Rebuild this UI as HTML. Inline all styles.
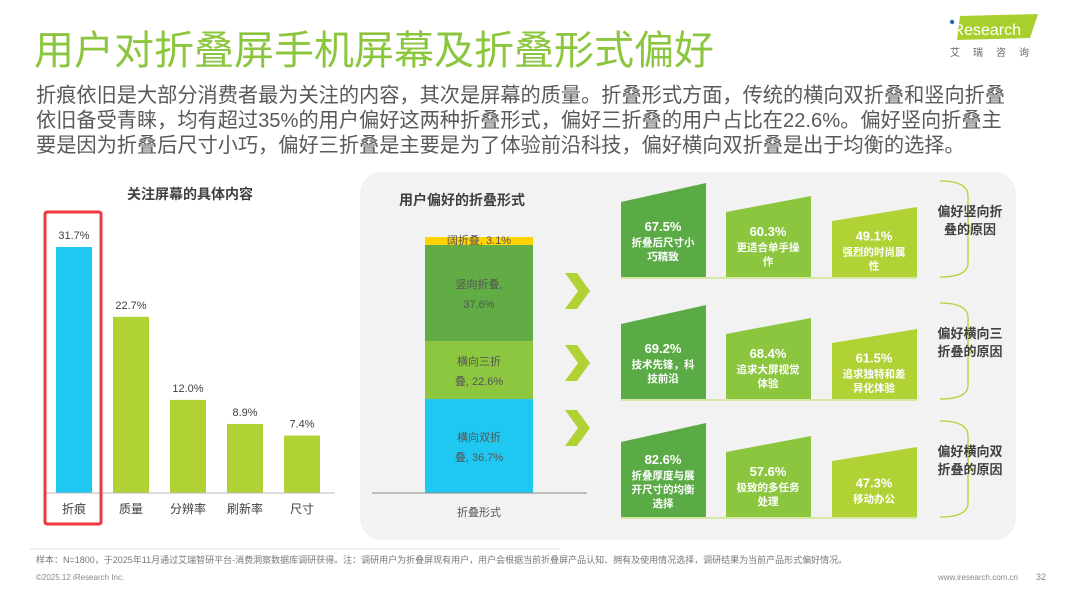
<!DOCTYPE html>
<html><head><meta charset="utf-8">
<style>
body{margin:0;width:1088px;height:595px;background:#fff;overflow:hidden;font-family:"Liberation Sans","Noto Sans CJK SC",sans-serif;position:relative}
.abs{position:absolute}
#title{left:34px;top:26px;font-size:40px;color:#8cc63f;white-space:nowrap;line-height:50px}
#para{left:36px;top:84px;font-size:20.2px;color:#595959;line-height:25px;width:1000px;white-space:nowrap}
</style></head><body>
<div class="abs" id="title">用户对折叠屏手机屏幕及折叠形式偏好</div>
<div class="abs" id="para">折痕依旧是大部分消费者最为关注的内容，其次是屏幕的质量。折叠形式方面，传统的横向双折叠和竖向折叠<br>依旧备受青睐，均有超过35%的用户偏好这两种折叠形式，偏好三折叠的用户占比在22.6%。偏好竖向折叠主<br>要是因为折叠后尺寸小巧，偏好三折叠是主要是为了体验前沿科技，偏好横向双折叠是出于均衡的选择。</div>
<svg class="abs" style="left:0;top:0" width="1088" height="595">
 <g>
  <polygon points="960,16 1038,14 1030,38 957,40" fill="#a8cf2e"/>
  <circle cx="952" cy="22" r="2.2" fill="#2a64b0"/>
  <text x="949" y="35" font-size="16" fill="#fff" font-family="Liberation Sans">iResearch</text>
  <text x="950" y="56" font-size="10" fill="#666" letter-spacing="13">艾瑞咨询</text>
 </g>
 <rect x="360" y="172" width="656" height="368" rx="22" fill="#f2f2f2"/>
 <g id="left"></g>
 <g id="mid"></g>
 <g id="cards"></g>
 <line x1="30" y1="549" x2="560" y2="549" stroke="#ddd"/>
 <text x="36" y="563" font-size="9" fill="#777">样本：N=1800，于2025年11月通过艾瑞智研平台-消费洞察数据库调研获得。注：调研用户为折叠屏现有用户，用户会根据当前折叠屏产品认知、拥有及使用情况选择，调研结果为当前产品形式偏好情况。</text>
 <text x="36" y="580" font-size="8" fill="#888">©2025.12 iResearch Inc.</text>
 <text x="1018" y="580" font-size="8" fill="#888" text-anchor="end">www.iresearch.com.cn</text>
 <text x="1046" y="580" font-size="9" fill="#888" text-anchor="end">32</text>
</svg>
<script>
const NS="http://www.w3.org/2000/svg";
function mk(p,t,a,txt){const e=document.createElementNS(NS,t);for(const k in a)e.setAttribute(k,a[k]);if(txt!==undefined)e.textContent=txt;p.appendChild(e);return e;}
// left chart data
const attCats=["折痕","质量","分辨率","刷新率","尺寸"];
const attVals=[31.7,22.7,12.0,8.9,7.4];
// mid chart data
const formCats=["横向双折叠","横向三折叠","竖向折叠","阔折叠"];
const formVals=[36.7,22.6,37.6,3.1];
// reason card data
const reasonGroups=["偏好竖向折叠的原因","偏好横向三折叠的原因","偏好横向双折叠的原因"];
const reasonVals=[[67.5,60.3,49.1],[69.2,68.4,61.5],[82.6,57.6,47.3]];
const reasonLabels=[["折叠后尺寸小|巧精致","更适合单手操|作","强烈的时尚属|性"],["技术先锋，科|技前沿","追求大屏视觉|体验","追求独特和差|异化体验"],["折叠厚度与展|开尺寸的均衡|选择","极致的多任务|处理","移动办公"]];

const L=document.getElementById("left");
mk(L,"text",{x:190,y:199,"font-size":14,"font-weight":"bold",fill:"#404040","text-anchor":"middle"},"关注屏幕的具体内容");
const base=493,sc=246/31.7;
const yL=v=>base-v*sc;
attVals.forEach((v,i)=>{
 const cx=74+i*57;
 const r=mk(L,"rect",{x:cx-18,y:yL(v),width:36,height:base-yL(v),fill:i==0?"#1ec8f0":"#b0d235"});
 
 
 mk(L,"text",{x:cx,y:yL(v)-8,"font-size":11,fill:"#404040","text-anchor":"middle"},v.toFixed(1)+"%");
 mk(L,"text",{x:cx,y:513,"font-size":12,fill:"#404040","text-anchor":"middle"},attCats[i]);
});
mk(L,"line",{x1:45,y1:base,x2:335,y2:base,stroke:"#bbb"});
const hb=mk(L,"rect",{x:45,y:212,width:56,height:312,fill:"none",stroke:"#f0393c","stroke-width":3,rx:2});



const M=document.getElementById("mid");
mk(M,"text",{x:462,y:205,"font-size":14,"font-weight":"bold",fill:"#404040","text-anchor":"middle"},"用户偏好的折叠形式");
const tot=formVals.reduce((a,b)=>a+b,0),ms=256/tot;
const colors=["#1ec8f0","#8dc63f","#62ac45","#ffd200"];
let acc=0;
formVals.forEach((v,i)=>{
 const y0=base-acc*ms,h=v*ms;acc+=v;
 const r=mk(M,"rect",{x:425,y:y0-h,width:108,height:h,fill:colors[i]});
 
 
 const cy=y0-h/2;
 if(i==3){mk(M,"text",{x:479,y:y0-1,"font-size":11,fill:"#555","text-anchor":"middle"},formCats[i]+", "+v+"%");}
 else{
  let a,b;
  if(i==2){a=formCats[i]+",";b=v+"%";}else{a=formCats[i].slice(0,4);b=formCats[i].slice(4)+", "+v+"%";}
  mk(M,"text",{x:479,y:cy-5,"font-size":11,fill:"#555","text-anchor":"middle"},a);
  mk(M,"text",{x:479,y:cy+15,"font-size":11,fill:"#555","text-anchor":"middle"},b);
 }
});
mk(M,"line",{x1:372,y1:base,x2:587,y2:base,stroke:"#888"});
mk(M,"text",{x:479,y:516,"font-size":11,fill:"#555","text-anchor":"middle"},"折叠形式");
[273,345,410].forEach(y=>{
 const c=mk(M,"polygon",{points:`565,${y} 577,${y} 590,${y+18} 577,${y+36} 565,${y+36} 578,${y+18}`,fill:"#b0d235"});
 
 
});

const C=document.getElementById("cards");
const bottoms=[278,400,518],cardX=[621,726,832],cardCol=["#5aab46","#8cc63f","#b0d235"];
const tops=[[202,183],[212,196],[221,207]];
reasonVals.forEach((row,g)=>{
 const b=bottoms[g];
 row.forEach((v,j)=>{
  const x=cardX[j],tl=b-(278-tops[j][0]),tr=b-(278-tops[j][1]);
  const p=mk(C,"polygon",{points:`${x},${tl} ${x+85},${tr} ${x+85},${b} ${x},${b}`,fill:cardCol[j]});
  
  
  const lines=reasonLabels[g][j].split("|");
  const cx=x+42,mid=(tl+b)/2+5;
  const st=mid-(lines.length*14)/2;
  mk(C,"text",{x:cx,y:st,"font-size":13,"font-weight":"bold",fill:"#fff","text-anchor":"middle"},v.toFixed(1)+"%");
  lines.forEach((t,k)=>mk(C,"text",{x:cx,y:st+15+k*14,"font-size":10.5,"font-weight":"bold",fill:"#fff","text-anchor":"middle"},t));
 });
 mk(C,"line",{x1:621,y1:b,x2:917,y2:b,stroke:"#d6e8a8","stroke-width":2});
 const by=b-97;
 mk(C,"path",{d:`M940,${by} Q968,${by} 968,${by+15} L968,${by+40} Q968,${by+48} 975,${by+48} Q968,${by+48} 968,${by+56} L968,${by+82} Q968,${by+96} 940,${by+96}`,fill:"none",stroke:"#b0d235","stroke-width":1.3});
 const gl=reasonGroups[g];
 mk(C,"text",{x:970,y:by+35,"font-size":13,"font-weight":"bold",fill:"#404040","text-anchor":"middle"},gl.slice(0,5));
 mk(C,"text",{x:970,y:by+53,"font-size":13,"font-weight":"bold",fill:"#404040","text-anchor":"middle"},gl.slice(5));
});
</script>
</body></html>
